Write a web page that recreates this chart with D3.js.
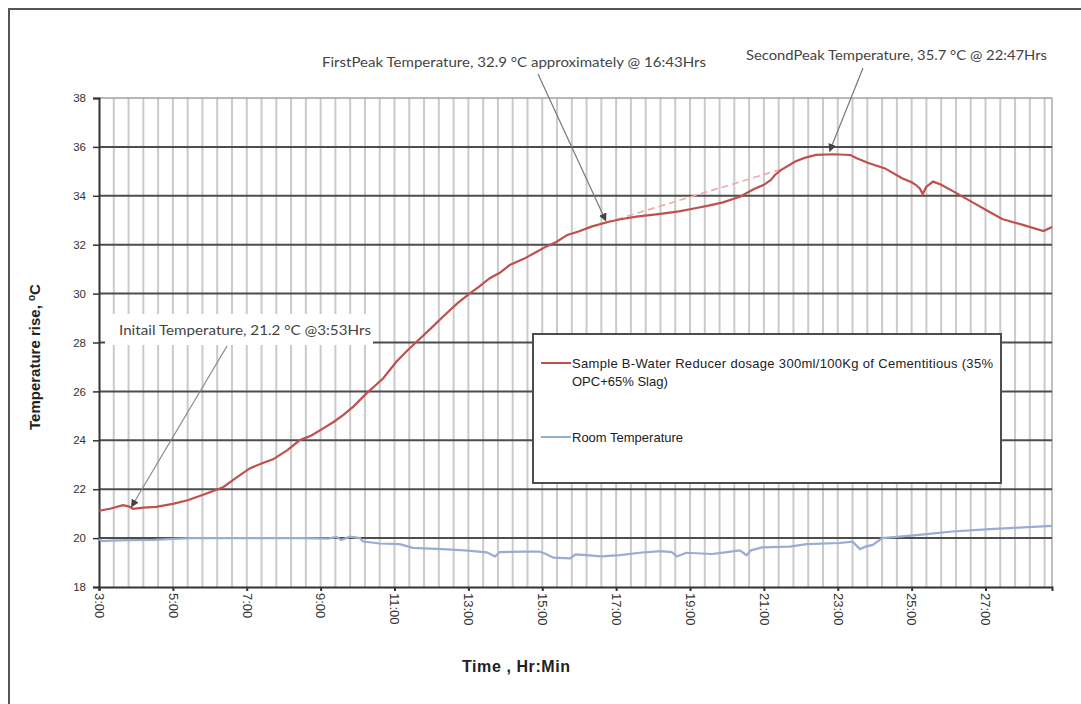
<!DOCTYPE html>
<html>
<head>
<meta charset="utf-8">
<script src="https://cdn.jsdelivr.net/npm/d3@7"></script>
<style>
  html, body { margin: 0; padding: 0; background: #fff; }
  svg { display: block; }
</style>
</head>
<body>
<div id="chart"></div>
<script>
// ---- Data (time in decimal hours, temperature in °C) ----
const sampleTime = [3.0, 3.3, 3.65, 3.8, 3.92, 4.2, 4.55, 5.0, 5.4, 5.82, 6.36, 6.7, 7.08, 7.4, 7.71, 8.1, 8.43, 8.75, 9.07, 9.35, 9.61, 9.9, 10.24, 10.45, 10.69, 11.05, 11.3, 11.6, 12.0, 12.31, 12.7, 13.04, 13.3, 13.58, 13.85, 14.12, 14.5, 14.84, 15.1, 15.39, 15.68, 16.0, 16.33, 16.8, 17.2, 17.55, 18.2, 18.7, 19.14, 19.5, 19.89, 20.35, 20.72, 21.0, 21.19, 21.3, 21.47, 21.85, 22.1, 22.41, 22.88, 23.34, 23.5, 23.81, 24.28, 24.74, 25.0, 25.12, 25.22, 25.3, 25.4, 25.58, 25.8, 26.14, 26.7, 27.1, 27.45, 28.01, 28.57, 28.8];
const sampleTemp = [21.12, 21.2, 21.35, 21.3, 21.2, 21.25, 21.28, 21.4, 21.55, 21.77, 22.08, 22.45, 22.85, 23.05, 23.22, 23.6, 24.0, 24.2, 24.49, 24.75, 25.03, 25.4, 25.92, 26.2, 26.53, 27.21, 27.6, 28.03, 28.6, 29.05, 29.6, 30.01, 30.3, 30.63, 30.85, 31.17, 31.42, 31.7, 31.92, 32.12, 32.4, 32.55, 32.74, 32.94, 33.06, 33.15, 33.26, 33.36, 33.49, 33.6, 33.73, 33.96, 34.27, 34.45, 34.65, 34.85, 35.06, 35.4, 35.55, 35.67, 35.7, 35.67, 35.55, 35.35, 35.12, 34.72, 34.55, 34.44, 34.3, 34.07, 34.37, 34.58, 34.45, 34.17, 33.69, 33.35, 33.05, 32.81, 32.56, 32.72];

const roomTime = [3.0, 3.1, 3.3, 3.8, 4.5, 5.0, 5.5, 7.0, 8.5, 9.2, 9.43, 9.56, 9.79, 10.06, 10.15, 10.6, 11.14, 11.5, 12.3, 12.9, 13.5, 13.72, 13.85, 14.5, 14.93, 15.1, 15.3, 15.75, 15.9, 16.2, 16.6, 17.1, 17.64, 18.2, 18.5, 18.64, 18.9, 19.6, 20.0, 20.35, 20.53, 20.65, 20.95, 21.7, 22.16, 23.05, 23.4, 23.6, 23.75, 23.95, 24.2, 24.6, 25.2, 26.1, 27.0, 27.9, 28.8];
const roomTemp = [19.95, 19.88, 19.9, 19.92, 19.93, 19.97, 20.0, 20.0, 20.0, 19.98, 20.05, 19.92, 20.06, 20.0, 19.86, 19.78, 19.75, 19.6, 19.55, 19.5, 19.42, 19.25, 19.43, 19.45, 19.45, 19.35, 19.2, 19.17, 19.33, 19.3, 19.25, 19.3, 19.4, 19.47, 19.43, 19.25, 19.4, 19.35, 19.43, 19.5, 19.3, 19.5, 19.62, 19.65, 19.75, 19.8, 19.85, 19.55, 19.65, 19.72, 20.0, 20.05, 20.13, 20.27, 20.36, 20.43, 20.5];

const xTickValues = [3, 5, 7, 9, 11, 13, 15, 17, 19, 21, 23, 25, 27];
const xTickLabels = ["3:00", "5:00", "7:00", "9:00", "11:00", "13:00", "15:00", "17:00", "19:00", "21:00", "23:00", "25:00", "27:00"];
const yTickValues = [18, 20, 22, 24, 26, 28, 30, 32, 34, 36, 38];
const seriesNames = ["Sample B-Water Reducer dosage 300ml/100Kg of Cementitious (35%", "OPC+65% Slag)", "Room Temperature"];

// Annotation points (time, temp)
const initialPoint = [3.88, 21.2];
const firstPeakPoint = [16.72, 32.9];
const secondPeakPoint = [22.78, 35.7];
const trendEndPoint = [21.5, 35.1];

// ---- Layout ----
const W = 1081, H = 704;
const pL = 99, pR = 1052, pT = 98, pB = 587;

const svg = d3.select("#chart").append("svg")
  .attr("width", W).attr("height", H)
  .style("font-family", "Arial, 'Liberation Sans', sans-serif");

svg.append("rect").attr("width", W).attr("height", H).attr("fill", "#fff");

// outer frame (left and top borders visible)
svg.append("path").attr("d", `M9,${H + 5} L9,9 L${W + 5},9`)
  .attr("fill", "none").attr("stroke", "#555").attr("stroke-width", 2);

const x = d3.scaleLinear().domain([3, 28.8]).range([pL, pR]);
const y = d3.scaleLinear().domain([18, 38]).range([pB, pT]);

// vertical minor gridlines every 24 minutes
const vGrid = d3.range(3.4, 28.7, 0.4);
svg.append("g").selectAll("line").data(vGrid).join("line")
  .attr("x1", d => x(d)).attr("x2", d => x(d))
  .attr("y1", pT).attr("y2", pB)
  .attr("stroke", "#cacaca").attr("stroke-width", 2);

// right edge
svg.append("line").attr("x1", x(28.8)).attr("x2", x(28.8)).attr("y1", pT).attr("y2", pB)
  .attr("stroke", "#aaa").attr("stroke-width", 1.5);

// horizontal gridlines
svg.append("g").selectAll("line").data(yTickValues.filter(v => v > 18 && v < 38)).join("line")
  .attr("x1", pL).attr("x2", pR)
  .attr("y1", d => y(d)).attr("y2", d => y(d))
  .attr("stroke", "#4d4d4d").attr("stroke-width", 2);
svg.append("line").attr("x1", pL).attr("x2", pR).attr("y1", y(38)).attr("y2", y(38))
  .attr("stroke", "#a0a0a0").attr("stroke-width", 1.5);

// Y axis
const yAxis = svg.append("g").attr("transform", `translate(${pL},0)`)
  .call(d3.axisLeft(y).tickValues(yTickValues).tickSize(6).tickPadding(7).tickFormat(d3.format("d")));
yAxis.select(".domain").attr("stroke", "#333").attr("stroke-width", 2);
yAxis.selectAll(".tick line").attr("stroke", "#333").attr("stroke-width", 1.5);
yAxis.selectAll(".tick text").attr("fill", "#333").style("font-size", "11.5px")
  .style("font-family", "Arial, 'Liberation Sans', sans-serif");

// X axis
const xAxis = svg.append("g").attr("transform", `translate(0,${pB})`)
  .call(d3.axisBottom(x).tickValues(xTickValues).tickSize(4).tickFormat((d, i) => xTickLabels[i]));
xAxis.select(".domain").attr("stroke", "#333").attr("stroke-width", 2);
xAxis.selectAll(".tick line").attr("stroke", "#333").attr("stroke-width", 2);
xAxis.selectAll(".tick text")
  .attr("fill", "#333")
  .style("font-size", "13px")
  .style("font-family", "Arial, 'Liberation Sans', sans-serif")
  .attr("text-anchor", "start")
  .attr("x", 0).attr("y", 0).attr("dy", "0.36em")
  .attr("transform", "translate(0,6) rotate(90)");

// Axis titles
const yTitle = svg.append("text")
  .attr("transform", `translate(40,357) rotate(-90)`)
  .attr("text-anchor", "middle")
  .attr("fill", "#222")
  .style("font-size", "15px").style("font-weight", "bold");
yTitle.append("tspan").text("Temperature rise, ");
yTitle.append("tspan").text("o").style("font-size", "10px").attr("dy", "-0.55em");
yTitle.append("tspan").text("C").attr("dy", "0.37em");

svg.append("text").attr("x", 462).attr("y", 672)
  .attr("fill", "#222").style("font-size", "16px").style("font-weight", "bold")
  .attr("textLength", 108).attr("lengthAdjust", "spacing")
  .text("Time , Hr:Min");

// Series lines
const line = d3.line().x(d => x(d[0])).y(d => y(d[1]));
const roomData = roomTime.map((t, i) => [t, roomTemp[i]]);
const sampleData = sampleTime.map((t, i) => [t, sampleTemp[i]]);

svg.append("path").datum(roomData).attr("d", line)
  .attr("fill", "none").attr("stroke", "#98acd6").attr("stroke-width", 2.2);

// dashed trend between peaks
svg.append("line")
  .attr("x1", x(firstPeakPoint[0])).attr("y1", y(firstPeakPoint[1]))
  .attr("x2", x(trendEndPoint[0])).attr("y2", y(trendEndPoint[1]))
  .attr("stroke", "#f0a8a8").attr("stroke-width", 1.6).attr("stroke-dasharray", "7,4");

svg.append("path").datum(sampleData).attr("d", line)
  .attr("fill", "none").attr("stroke", "#c0504d").attr("stroke-width", 2.2);

// Legend
const lg = svg.append("g");
lg.append("rect").attr("x", 533).attr("y", 334).attr("width", 468).attr("height", 149)
  .attr("fill", "#fff").attr("stroke", "#4d4d4d").attr("stroke-width", 2);
lg.append("line").attr("x1", 541).attr("x2", 571).attr("y1", 363).attr("y2", 363)
  .attr("stroke", "#c0504d").attr("stroke-width", 2);
lg.append("text").attr("x", 572).attr("y", 367.5).attr("fill", "#222").style("font-size", "13px")
  .attr("textLength", 421).attr("lengthAdjust", "spacing").text(seriesNames[0]);
lg.append("text").attr("x", 572).attr("y", 386).attr("fill", "#222").style("font-size", "13px")
  .text(seriesNames[1]);
lg.append("line").attr("x1", 541).attr("x2", 571).attr("y1", 437).attr("y2", 437)
  .attr("stroke", "#98acd6").attr("stroke-width", 2);
lg.append("text").attr("x", 572).attr("y", 441.5).attr("fill", "#222").style("font-size", "13px")
  .text(seriesNames[2]);

// Annotations
const defs = svg.append("defs");
defs.append("marker").attr("id", "arrow").attr("viewBox", "0 0 10 10")
  .attr("refX", 9).attr("refY", 5).attr("markerWidth", 8).attr("markerHeight", 8)
  .attr("markerUnits", "userSpaceOnUse").attr("orient", "auto")
  .append("path").attr("d", "M0,0 L10,5 L0,10 z").attr("fill", "#444");

const annFont = "Lato, 'Open Sans', sans-serif";

// Initial temperature annotation (white label box)
svg.append("rect").attr("x", 105).attr("y", 314).attr("width", 268).attr("height", 31).attr("fill", "#fff");
svg.append("text").attr("x", 119).attr("y", 335).attr("fill", "#444")
  .style("font-family", annFont).style("font-size", "14px")
  .attr("textLength", 252).attr("lengthAdjust", "spacingAndGlyphs")
  .text("Initail  Temperature, 21.2 °C @3:53Hrs");
svg.append("line").attr("x1", 227).attr("y1", 346)
  .attr("x2", x(initialPoint[0])).attr("y2", y(initialPoint[1]) - 2)
  .attr("stroke", "#888").attr("stroke-width", 1.2).attr("marker-end", "url(#arrow)");

// First peak
svg.append("text").attr("x", 322).attr("y", 67).attr("fill", "#444")
  .style("font-family", annFont).style("font-size", "14px")
  .attr("textLength", 384).attr("lengthAdjust", "spacingAndGlyphs")
  .text("FirstPeak Temperature, 32.9 °C approximately @ 16:43Hrs");
svg.append("line").attr("x1", 538).attr("y1", 74)
  .attr("x2", x(firstPeakPoint[0])).attr("y2", y(firstPeakPoint[1]) - 2)
  .attr("stroke", "#777").attr("stroke-width", 1.2).attr("marker-end", "url(#arrow)");

// Second peak
svg.append("text").attr("x", 746).attr("y", 60).attr("fill", "#444")
  .style("font-family", annFont).style("font-size", "14px")
  .attr("textLength", 301).attr("lengthAdjust", "spacingAndGlyphs")
  .text("SecondPeak Temperature, 35.7 °C @ 22:47Hrs");
svg.append("line").attr("x1", 863).attr("y1", 68)
  .attr("x2", x(secondPeakPoint[0])).attr("y2", y(secondPeakPoint[1]) - 3)
  .attr("stroke", "#777").attr("stroke-width", 1.2).attr("marker-end", "url(#arrow)");
</script>
</body>
</html>
